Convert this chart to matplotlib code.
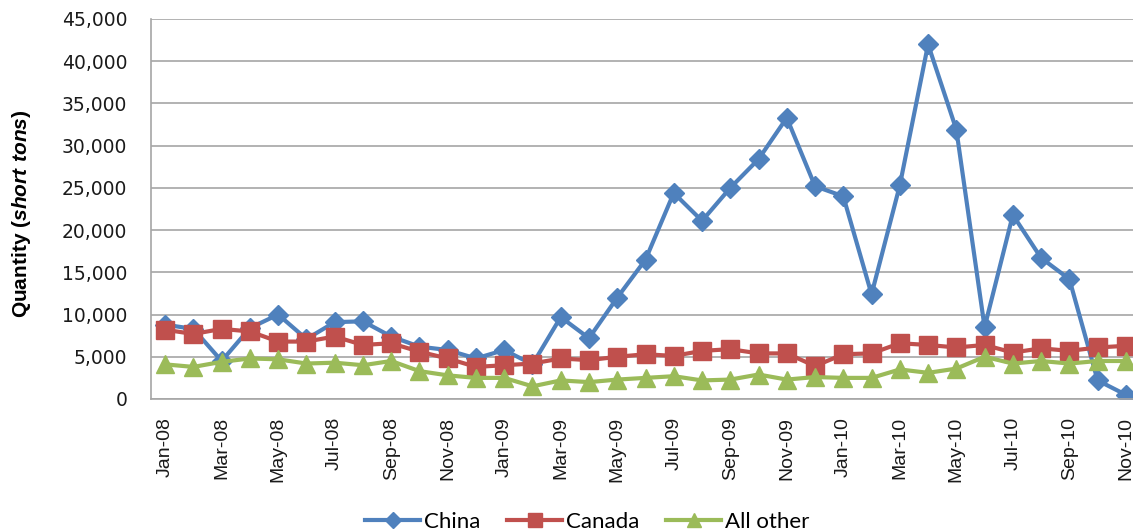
import matplotlib
matplotlib.use("Agg")
import matplotlib.pyplot as plt
from matplotlib.ticker import FuncFormatter

# monthly imports, Jan-08 .. Nov-10 (short tons)
months = ["Jan-08", "Feb-08", "Mar-08", "Apr-08", "May-08", "Jun-08", "Jul-08", "Aug-08",
          "Sep-08", "Oct-08", "Nov-08", "Dec-08", "Jan-09", "Feb-09", "Mar-09", "Apr-09",
          "May-09", "Jun-09", "Jul-09", "Aug-09", "Sep-09", "Oct-09", "Nov-09", "Dec-09",
          "Jan-10", "Feb-10", "Mar-10", "Apr-10", "May-10", "Jun-10", "Jul-10", "Aug-10",
          "Sep-10", "Oct-10", "Nov-10"]
china = [8800, 8300, 4500, 8400, 10000, 7100, 9100, 9200, 7400, 6200, 5800, 4800,
         5800, 4100, 9700, 7200, 12000, 16500, 24400, 21100, 25000, 28400, 33300, 25200,
         24000, 12400, 25300, 42000, 31900, 8500, 21800, 16700, 14200, 2200, 500]
canada = [8200, 7700, 8300, 8000, 6800, 6800, 7400, 6400, 6600, 5600, 4800, 3800,
          4000, 4200, 4800, 4600, 5000, 5300, 5100, 5700, 5900, 5400, 5400, 3900,
          5300, 5400, 6600, 6400, 6100, 6400, 5500, 6000, 5700, 6100, 6300]
other = [4100, 3800, 4400, 4800, 4700, 4200, 4300, 4000, 4500, 3300, 2800, 2500,
         2500, 1500, 2200, 2000, 2300, 2500, 2700, 2200, 2300, 2900, 2300, 2600,
         2500, 2500, 3500, 3100, 3600, 5000, 4200, 4500, 4200, 4500, 4500]

BLUE, RED, GREEN = "#4F81BD", "#C0504D", "#9BBB59"
GRID = "#A6A6A6"

plt.rcParams["mathtext.fontset"] = "custom"
plt.rcParams["mathtext.bfit"] = "Liberation Sans:italic:bold"

W, H = 1133, 531
fig = plt.figure(figsize=(W / 100, H / 100), dpi=100)
ax = fig.add_axes([151 / W, 1 - 399 / H, 989 / W, 380 / H])

x = list(range(len(months)))
ax.plot(x, china, color=BLUE, lw=3, marker="D", ms=10, label="China")
ax.plot(x, canada, color=RED, lw=3, marker="s", ms=12.5, label="Canada")
ax.plot(x, other, color=GREEN, lw=3, marker="^", ms=12.5, label="All other")

ax.set_xlim(-0.5, len(months) - 0.5)
ax.set_ylim(0, 45000)
ax.set_yticks(range(0, 45001, 5000))
ax.yaxis.set_major_formatter(FuncFormatter(lambda v, _: f"{int(v):,}"))
ax.set_xticks(x[::2])
ax.set_xticklabels(months[::2], rotation=90, fontsize=14, family="Liberation Sans",
                   color="#1a1a1a")
ax.tick_params(axis="x", length=0, pad=13)
ax.tick_params(axis="y", length=0, pad=17, labelsize=13.5, labelcolor="#1a1a1a")

ax.grid(axis="y", color=GRID, lw=1.2)
ax.set_axisbelow(True)
for s in ("top", "right"):
    ax.spines[s].set_visible(False)
for s in ("left", "bottom"):
    ax.spines[s].set_color(GRID)
    ax.spines[s].set_linewidth(1.2)

ax.set_ylabel(r"Quantity ($\mathbfit{short\ tons}$)", fontsize=15, fontweight="bold",
              family="Liberation Sans")
ax.yaxis.set_label_coords(-0.119, 0.487)

fig.legend(loc="center", bbox_to_anchor=(587 / W, 9 / H), ncol=3, frameon=False,
           prop={"family": "Lato", "size": 16}, handlelength=2.5, handletextpad=0.15,
           columnspacing=1.2, markerscale=0.8)

fig.savefig("out.png", dpi=100)
